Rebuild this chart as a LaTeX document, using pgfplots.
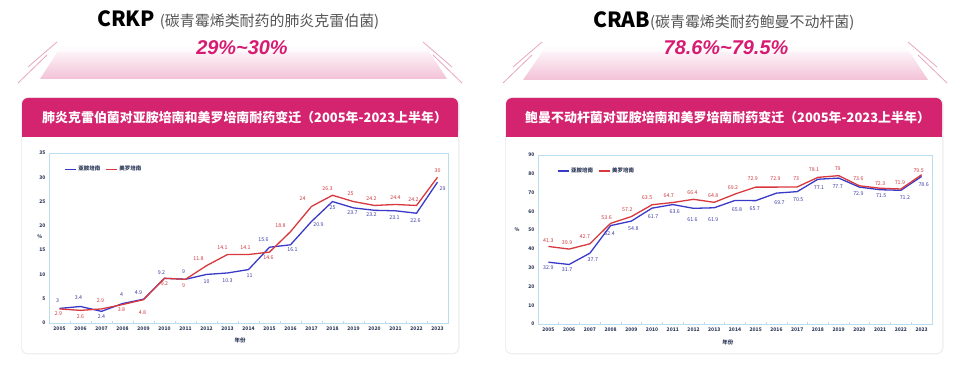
\documentclass[border=0pt]{standalone}
\usepackage{pgfplots}
\pgfplotsset{compat=1.18}
\usepackage{pgfplotstable}
\usepackage{fontspec}
\setmainfont{Noto Sans CJK SC}
\newfontfamily\pctfont{Liberation Sans}
\definecolor{mag}{HTML}{D42470}
\definecolor{pinktxt}{HTML}{D81B72}
\definecolor{axblue}{HTML}{BBDDF0}
\definecolor{lblue}{HTML}{3A3AC8}
\definecolor{lred}{HTML}{D8383E}
\definecolor{tblue}{HTML}{3A3AA8}
\definecolor{tred}{HTML}{D0373C}
\definecolor{tickc}{HTML}{2E3A59}
\definecolor{subgray}{HTML}{555555}
\definecolor{deco}{HTML}{E9A6C2}

\pgfplotstableread{
x y dx dy
0 3 -2 8
1 3.4 -2 9
2 2.4 0 -5
3 4 -1 9
4 4.9 -5 7
5 9.2 -3 6
6 9 -2 8
7 10 0 -7
8 10.3 0 -8
9 11 1 -6
10 15.6 -6 8
11 16.1 2 -5
12 20.9 7 -3
13 25 0 -6
14 23.7 -1 -5
15 23.2 -3 -4
16 23.1 -1 -7
17 22.6 -1 -7
18 29 5 -6
}\crkpImi

\pgfplotstableread{
x y dx dy
0 2.9 -1 -5
1 2.6 0 -6
2 2.9 -1 8
3 3.8 -1 -5
4 4.8 -1 -13
5 9.2 0 -5
6 9 -2 -6
7 11.8 -8 7
8 14.1 -5 7
9 14.1 -3 7
10 14.6 -1 -6
11 18.8 -10 6
12 24 -9 8
13 26.3 -5 7
14 25 -3 8
15 24.2 -3 7
16 24.4 0 7
17 24.2 -3 6
18 30 0 7
}\crkpMer

\pgfplotstableread{
x y dx dy
0 32.9 0 -5
1 31.7 -2 -5
2 37.7 3 -6
3 52.4 -1 -8
4 54.8 2 -8
5 61.7 1 -8
6 63.6 2 -7
7 61.6 -1 -11
8 61.9 -1 -12
9 65.8 2 -9
10 65.7 -1 -8
11 69.7 3 -9
12 70.5 1 -8
13 77.1 1 -8
14 77.7 -1 -9
15 72.9 -1 -7
16 71.5 1 -6
17 71.2 4 -7
18 78.6 2 -8
}\crabImi

\pgfplotstableread{
x y dx dy
0 41.3 0 6
1 39.9 -2 6
2 42.7 -5 7
3 53.6 -4 6
4 57.2 -4 7
5 63.5 -5 7
6 64.7 -4 7
7 66.4 -1 7
8 64.8 -1 7
9 69.2 -2 6
10 72.9 -3 8
11 72.9 -1 8
12 73 -1 8
13 78.1 -4 8
14 79 -1 7
15 73.6 -1 7
16 72.3 0 5
17 71.9 -1 6
18 79.5 -3 4
}\crabMer

\pgfplotsset{
  chartstyle/.style={
    scale only axis,
    anchor=south west,
    xmin=-0.5, xmax=18.5, ymin=0,
    xtick={0,...,18},
    xticklabels={2005,2006,2007,2008,2009,2010,2011,2012,2013,2014,2015,2016,2017,2018,2019,2020,2021,2022,2023},
    major tick length=0pt,
    minor xtick={-0.5,0.5,...,18.5},
    minor tick length=2bp,
    xtick pos=bottom, ytick pos=left,
    axis line style={axblue, line width=0.8bp},
    every tick/.style={axblue, line width=0.6bp},
    tick label style={font=\fontsize{5}{6}\selectfont\bfseries, text=tickc},
    /pgf/number format/assume math mode=true,
    xlabel={年份},
    xlabel style={font=\fontsize{5.5}{6}\selectfont\bfseries, text=tickc, anchor=center},
    ylabel={\%},
    ylabel style={font=\fontsize{5}{6}\selectfont\bfseries, text=tickc, rotate=-90, anchor=center},
    legend style={draw=none, fill=none, legend columns=2, font=\fontsize{5.5}{6}\selectfont\bfseries, text=tickc,
      /tikz/every even column/.append style={column sep=3bp}, anchor=west},
    legend image code/.code={\draw[##1, line width=1.2bp] (0bp,0bp) -- (11bp,0bp);},
  },
  bl/.style={lblue, line width=1.3bp, mark=none},
  rd/.style={lred, line width=1.3bp, mark=none},
  lab/.style={
    point meta=y,
    visualization depends on={\thisrow{dx} \as \dx},
    visualization depends on={\thisrow{dy} \as \dy},
    nodes near coords={\pgfmathprintnumber{\pgfplotspointmeta}},
    every node near coord/.append style={font=\fontsize{5.3}{6}\selectfont, anchor=center, inner sep=0pt, xshift=\dx*1bp, yshift=\dy*1bp, text=#1},
  },
}

\begin{document}
\begin{tikzpicture}
% page
\fill[white] (0bp,0bp) rectangle (960bp,370bp);

% ---------- decorations ----------
\shade[top color=white, bottom color=mag!28] (62bp,325bp) -- (425bp,325bp) -- (447bp,291bp) -- (40bp,291bp) -- cycle;
\shade[top color=white, bottom color=mag!28] (547bp,325bp) -- (905bp,325bp) -- (928bp,290bp) -- (523bp,290bp) -- cycle;
\fill[white, opacity=0.6] (40bp,318bp) rectangle (930bp,330bp);
\draw[deco, line width=0.8bp] (57bp,328bp) -- (28bp,303bp);
\draw[deco, line width=0.8bp] (47bp,315bp) -- (18bp,287bp);
\draw[deco, line width=0.8bp] (423bp,328bp) -- (452bp,303bp);
\draw[deco, line width=0.8bp] (433bp,315bp) -- (462bp,287bp);
\draw[deco, line width=0.8bp] (542bp,328bp) -- (513bp,303bp);
\draw[deco, line width=0.8bp] (532bp,315bp) -- (503bp,287bp);
\draw[deco, line width=0.8bp] (908bp,328bp) -- (937bp,303bp);
\draw[deco, line width=0.8bp] (918bp,315bp) -- (947bp,287bp);

% titles
\node[anchor=base west, inner sep=0pt] at (97bp,343bp) {\fontsize{21}{21}\selectfont\bfseries CRKP\ {\fontsize{15}{15}\selectfont\mdseries\color{subgray}(碳青霉烯类耐药的肺炎克雷伯菌)}};
\node[anchor=base west, inner sep=0pt] at (593bp,342bp) {\fontsize{21}{21}\selectfont\bfseries CRAB{\fontsize{15}{15}\selectfont\mdseries\color{subgray}(碳青霉烯类耐药鲍曼不动杆菌)}};
\node[anchor=base, inner sep=0pt, text=pinktxt] at (242bp,315bp) {\pctfont\fontsize{20}{20}\selectfont\bfseries\itshape 29\%\textasciitilde30\%};
\node[anchor=base, inner sep=0pt, text=pinktxt] at (726bp,315bp) {\pctfont\fontsize{20}{20}\selectfont\bfseries\itshape 78.6\%\textasciitilde79.5\%};

% cards
\fill[black!6, rounded corners=7bp] (21bp,15.5bp) rectangle (459.5bp,273bp);
\fill[white, rounded corners=6bp] (22bp,17bp) rectangle (458bp,272bp);
\fill[mag, rounded corners=6bp] (22bp,233bp) rectangle (458bp,272bp);
\fill[mag] (22bp,233bp) rectangle (458bp,245bp);
\node[anchor=west, text=white, inner sep=0pt] at (42bp,252bp) {\fontsize{13}{13}\selectfont\bfseries 肺炎克雷伯菌对亚胺培南和美罗培南耐药变迁（2005年-2023上半年）};

\fill[black!6, rounded corners=7bp] (505bp,15.5bp) rectangle (943.5bp,273bp);
\fill[white, rounded corners=6bp] (506bp,17bp) rectangle (942bp,272bp);
\fill[mag, rounded corners=6bp] (506bp,233bp) rectangle (942bp,272bp);
\fill[mag] (506bp,233bp) rectangle (942bp,245bp);
\node[anchor=west, text=white, inner sep=0pt] at (525bp,252bp) {\fontsize{13}{13}\selectfont\bfseries 鲍曼不动杆菌对亚胺培南和美罗培南耐药变迁（2005年-2023上半年）};

% ---------- left chart ----------
\begin{axis}[chartstyle, at={(49bp,47bp)}, width=399bp, height=170bp,
  ymax=35, ytick={0,5,...,35},
  xlabel style={at={(axis description cs:0.479,-0.1)}},
  ylabel style={at={(axis description cs:-0.023,0.51)}},
  legend style={at={(axis description cs:0.03,0.905)}}]
\addplot[bl, lab=tblue] table[x=x,y=y]{\crkpImi};
\addlegendentry{亚胺培南}
\addplot[rd, lab=tred] table[x=x,y=y]{\crkpMer};
\addlegendentry{美罗培南}
\end{axis}

% ---------- right chart ----------
\begin{axis}[chartstyle, at={(538bp,46bp)}, width=394bp, height=169bp,
  ymax=90, ytick={0,10,...,90},
  xlabel style={at={(axis description cs:0.482,-0.107)}},
  ylabel style={at={(axis description cs:-0.053,0.56)}},
  legend style={at={(axis description cs:0.04,0.905)}}]
\addplot[bl, lab=tblue] table[x=x,y=y]{\crabImi};
\addlegendentry{亚胺培南}
\addplot[rd, lab=tred] table[x=x,y=y]{\crabMer};
\addlegendentry{美罗培南}
\end{axis}
\end{tikzpicture}
\end{document}
